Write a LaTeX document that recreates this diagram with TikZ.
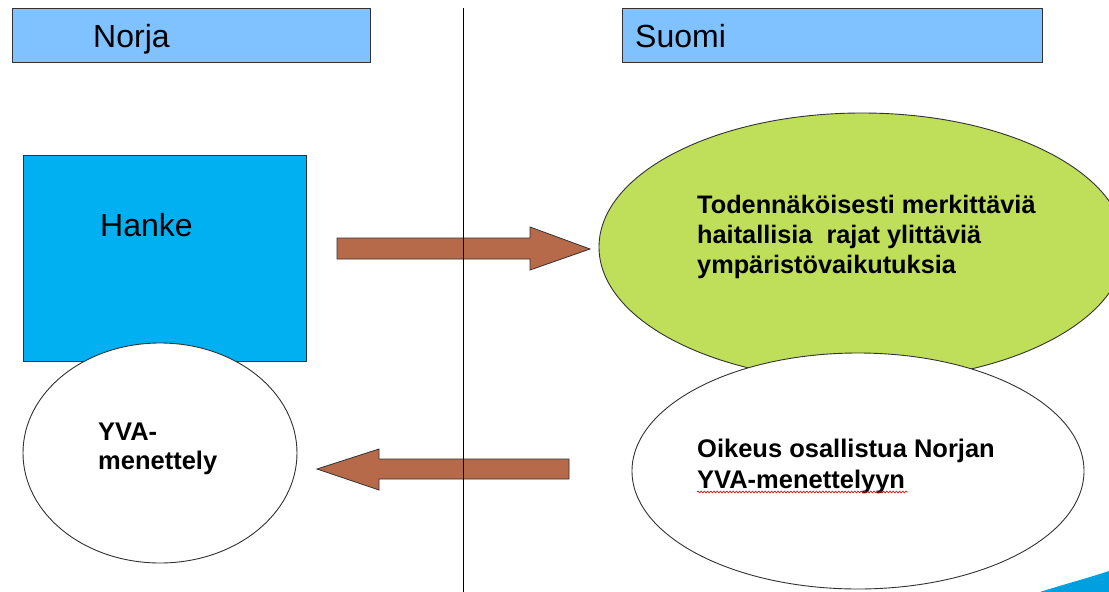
\documentclass[tikz,border=0pt]{standalone}
\usepackage{fontspec}
\setmainfont{Liberation Sans}
\usetikzlibrary{decorations.pathmorphing}
\definecolor{hdrblue}{RGB}{128,194,255}
\definecolor{hankeblue}{RGB}{0,176,240}
\definecolor{limegreen}{RGB}{191,223,90}
\definecolor{arrowbrown}{RGB}{183,106,74}
\definecolor{edgegray}{RGB}{50,50,50}
\definecolor{swooshblue}{RGB}{0,160,224}
\tikzset{
  header/.style={draw=edgegray, line width=0.9pt, fill=hdrblue},
  hankebox/.style={draw=edgegray, line width=0.9pt, fill=hankeblue},
  greenoval/.style={draw=edgegray, line width=0.9pt, fill=limegreen},
  whiteoval/.style={draw=edgegray, line width=0.9pt, fill=white},
  blockarrow/.style={draw=edgegray, line width=0.8pt, fill=arrowbrown, line join=miter},
  divider/.style={draw=black, line width=1pt},
  plainlabel/.style={inner sep=0pt, anchor=base west, font=\fontsize{32}{38}\selectfont},
  boldlabel/.style={inner sep=0pt, anchor=base west, align=left},
  spellwave/.style={draw=red!85!black, line width=0.6pt, decorate, decoration={snake, amplitude=0.9pt, segment length=3.2pt}}
}
\begin{document}
\begin{tikzpicture}[x=1pt,y=-1pt]
\useasboundingbox (0,0) rectangle (1109,592);
\clip (0,0) rectangle (1109,592);
\fill[white] (0,0) rectangle (1109,592);

% headers
\path[header] (12,8) rectangle (370,62);
\node[plainlabel] (norja) at (93,47) {Norja};
\path[header] (622,8) rectangle (1042,62);
\node[plainlabel] (suomi) at (635,47) {Suomi};

% left side
\path[hankebox] (23,155) rectangle (306,361);
\node[plainlabel] (hanke) at (100,236) {Hanke};
\path[whiteoval] (160,453) ellipse [x radius=137, y radius=110];
\node[boldlabel, font=\fontsize{25.5}{29}\selectfont\bfseries] (yva) at (98,469) {YVA-\\menettely};

% right side
\path[greenoval] (862,247) ellipse [x radius=263, y radius=134];
\node[boldlabel, font=\fontsize{25.3}{30}\selectfont\bfseries] (impact) at (697,273) {Todennäköisesti merkittäviä\\haitallisia\ \ rajat ylittäviä\\ympäristövaikutuksia};
\path[whiteoval] (858,471) ellipse [x radius=226, y radius=118];
\node[boldlabel, font=\fontsize{25.5}{31}\selectfont\bfseries] (right) at (697,488) {Oikeus osallistua Norjan\\YVA-menettelyyn};
\coordinate (wavestart) at (697,492);
\coordinate (waveend) at (908,492);
\draw[spellwave] (wavestart) -- (waveend);

% divider
\coordinate (divtop) at (463,8);
\coordinate (divbot) at (463,592);

% block arrows
\path[blockarrow] (337,238) -- (530,238) -- (530,227) -- (590,249) -- (530,270) -- (530,259) -- (337,259) -- cycle;
\path[blockarrow] (569,459) -- (379,459) -- (379,449) -- (317,469) -- (379,490) -- (379,479) -- (569,479) -- cycle;
\draw[divider] (divtop) -- (divbot);

% corner swoosh
\fill[swooshblue] (1040,592) .. controls (1065,584) and (1088,578) .. (1109,571) -- (1109,592) -- cycle;
\end{tikzpicture}
\end{document}
